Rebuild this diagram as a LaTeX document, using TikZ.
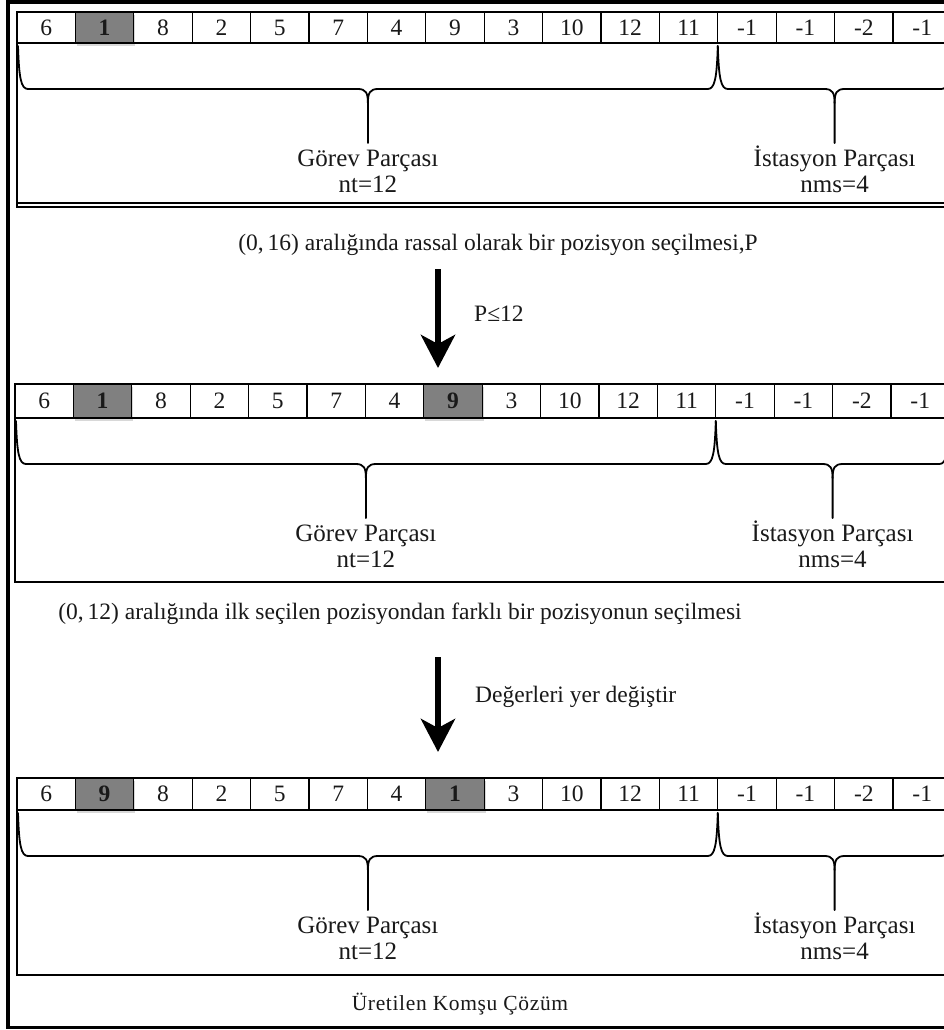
\documentclass[tikz,border=0pt]{standalone}
\usepackage{fontspec}
\setmainfont{Liberation Serif}
\usetikzlibrary{arrows.meta,calc,shadows}

\tikzset{
  cell/.style={draw, line width=1.1pt, minimum width=58.4pt, inner sep=0pt, outer sep=0pt,
               font=\fontsize{23.5}{23.5}\selectfont, text=black!90},
  hlcell/.style={cell, fill=black!50, font=\fontsize{23.5}{23.5}\selectfont\bfseries,
               drop shadow={shadow xshift=1.5pt, shadow yshift=-3pt, opacity=.3}},
  pline/.style={line width=1.1pt},
  ptop/.style={line width=1.9pt},
  brc/.style={line width=1.8pt, line cap=round, line join=round},
  lbl/.style={font=\fontsize{25}{25}\selectfont, inner sep=0pt, anchor=base, text=black!90},
  txt/.style={font=\fontsize{23.5}{23.5}\selectfont, inner sep=0pt, text=black!90},
  bigarrow/.style={line width=6pt, -{Stealth[length=33pt,width=34pt,inset=9pt]}},
  outer/.style={line width=3.6pt},
}

% one row of sixteen cells; #6 and #7 are the shaded positions
\newcommand\cellrow[7]{%
  \foreach \v [count=\i] in {#5} {
    \ifnum\i=#6 \def\sty{hlcell}\else\ifnum\i=#7 \def\sty{hlcell}\else\def\sty{cell}\fi\fi
    \node[\sty, minimum height=#4] (#1c\i) at ({#2+(\i-0.5)*58.4}, {#3+#4/2}) {\v};
  }
}

% curly brace hanging under the span (#1)--(#2); its stem ends at coordinate #3
\newcommand\segbrace[3]{%
  \coordinate (#3) at ($(#1)!0.5!(#2)+(0,97)$);
  \draw[brc] (#1) .. controls ($(#1)+(1,32)$) and ($(#1)+(3,43)$) .. ($(#1)+(10,43)$)
     -- ($(#1)!0.5!(#2)+(-10,43)$) .. controls ($(#1)!0.5!(#2)+(-2,43)$) and ($(#1)!0.5!(#2)+(0,47)$)
     .. ($(#1)!0.5!(#2)+(0,57)$) -- (#3);
  \draw[brc] (#2) .. controls ($(#2)+(-1,32)$) and ($(#2)+(-3,43)$) .. ($(#2)+(-10,43)$)
     -- ($(#1)!0.5!(#2)+(10,43)$) .. controls ($(#1)!0.5!(#2)+(2,43)$) and ($(#1)!0.5!(#2)+(0,47)$)
     .. ($(#1)!0.5!(#2)+(0,57)$);
}

% braces and part labels under a row #1
\newcommand\rowparts[1]{%
  \coordinate (#1gl) at ($(#1c1.south west)+(1,3)$);
  \coordinate (#1gr) at ($(#1c12.south east)+(0,3)$);
  \coordinate (#1sr) at ($(#1c16.south east)+(0,3)$);
  \segbrace{#1gl}{#1gr}{#1gs}
  \segbrace{#1gr}{#1sr}{#1ss}
  \node[lbl] (#1gt) at ($(#1gs)+(0,23)$) {Görev Parçası};
  \node[lbl] (#1gn) at ($(#1gs)+(0,49)$) {nt=12};
  \node[lbl] (#1st) at ($(#1ss)+(0,23)$) {İstasyon Parçası};
  \node[lbl] (#1sn) at ($(#1ss)+(0,49)$) {nms=4};
}

\begin{document}
\begin{tikzpicture}[x=1pt, y=-1pt]
\useasboundingbox (0,0) rectangle (944,1030);
\clip (0,0) rectangle (944,1030);
\fill[white] (0,0) rectangle (944,1030);

% outer frame (runs past the right edge)
\draw[outer] (8,2.2) rectangle (990,1027.5);

% ---- first solution ----
\cellrow{p}{17}{12}{31}{6,1,8,2,5,7,4,9,3,10,12,11,-1,-1,-2,-1}{2}{0}
\draw[ptop] (pc1.north west) -- ++(990,0);
\draw[pline] (pc1.north west) -- ++(0,195) -- ++(990,0);
\draw[pline] ($(pc1.north west)+(0,191)$) -- ++(990,0);
\rowparts{p}

\node[txt] (t1) at (498,245) {(0,\,16) aralığında rassal olarak bir pozisyon seçilmesi,P};
\coordinate (a1s) at (438,269);
\coordinate (a1e) at (438,368);
\draw[bigarrow] (a1s) -- (a1e);
\node[txt, anchor=west] (c1) at (474,314) {P≤12};

% ---- second solution ----
\cellrow{q}{15}{384}{34}{6,1,8,2,5,7,4,9,3,10,12,11,-1,-1,-2,-1}{2}{8}
\draw[ptop] (qc1.north west) -- ++(990,0);
\draw[pline] (qc1.north west) -- ++(0,198) -- ++(990,0);
\rowparts{q}

\node[txt] (t2) at (400,614) {(0,\,12) aralığında ilk seçilen pozisyondan farklı bir pozisyonun seçilmesi};
\coordinate (a2s) at (438,657);
\coordinate (a2e) at (438,752);
\draw[bigarrow] (a2s) -- (a2e);
\node[txt, anchor=west] (c2) at (475,697) {Değerleri yer değiştir};

% ---- neighbour solution ----
\cellrow{r}{17}{778}{32}{6,9,8,2,5,7,4,1,3,10,12,11,-1,-1,-2,-1}{2}{8}
\draw[ptop] (rc1.north west) -- ++(990,0);
\draw[pline] (rc1.north west) -- ++(0,197) -- ++(990,0);
\rowparts{r}

\node[txt, font=\fontsize{21.5}{21.5}\selectfont\addfontfeature{LetterSpace=3}] (cap) at (460,1004) {Üretilen Komşu Çözüm};
\end{tikzpicture}
\end{document}
